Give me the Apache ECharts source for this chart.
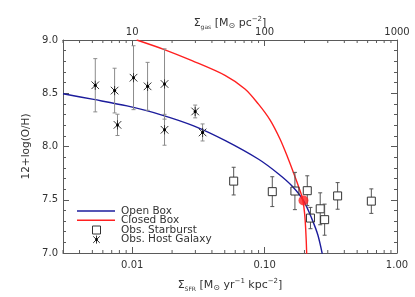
<!DOCTYPE html>
<html><head><meta charset="utf-8">
<script src="https://cdn.jsdelivr.net/npm/echarts@6/dist/echarts.min.js"></script>
<style>html,body{margin:0;padding:0;background:#fff}#c{width:415px;height:297px}</style>
</head><body><div id="c"></div>
<script>
// ---- data ----
const hostSFR = [0.00526, 0.00736, 0.00774, 0.01023, 0.01306, 0.01754, 0.01754, 0.0299, 0.0340];
const hostOH  = [8.575, 8.525, 8.203, 8.646, 8.565, 8.587, 8.157, 8.329, 8.132];
const hostErr = [0.25, 0.21, 0.10, 0.30, 0.225, 0.33, 0.145, 0.06, 0.08];

const sbSFR = [0.0584, 0.1143, 0.1694, 0.210, 0.222, 0.263, 0.284, 0.356, 0.640];
const sbOH  = [7.675, 7.576, 7.582, 7.585, 7.328, 7.415, 7.313, 7.536, 7.487];
const sbErr = [0.13, 0.14, 0.175, 0.14, 0.10, 0.15, 0.146, 0.125, 0.115];

const openSFR = [0.003, 0.00511, 0.00913, 0.0163, 0.0291, 0.0505, 0.0901, 0.1275, 0.1618, 0.1977, 0.2279, 0.2522, 0.2727];
const openOH  = [8.495, 8.442, 8.381, 8.300, 8.194, 8.055, 7.880, 7.742, 7.627, 7.488, 7.318, 7.171, 6.991];

const closedSFR = [0.01081, 0.01768, 0.02828, 0.05022, 0.07108, 0.08959, 0.1098, 0.1307, 0.1502, 0.1667, 0.1818, 0.1932, 0.2001, 0.2043, 0.2079];
const closedOH  = [9.000, 8.908, 8.806, 8.668, 8.540, 8.400, 8.250, 8.070, 7.890, 7.742, 7.613, 7.512, 7.382, 7.226, 6.991];

const dotSFR = [0.1966];
const dotOH  = [7.493];

const xTickVals = [0.01, 0.1, 1];
const xTickLabels = ['0.01', '0.10', '1.00'];
const gasTickVals = [10, 100, 1000];
const gasTickLabels = ['10', '100', '1000'];
const xMinorTicks = [0.003,0.004,0.005,0.006,0.007,0.008,0.009,0.02,0.03,0.04,0.05,0.06,0.07,0.08,0.09,0.2,0.3,0.4,0.5,0.6,0.7,0.8,0.9];
const gasMinorTicks = [3,4,5,6,7,8,9,20,30,40,50,60,70,80,90,200,300,400,500,600,700,800,900];

const legendNames = ['Open Box', 'Closed Box', 'Obs. Starburst', 'Obs. Host Galaxy'];

// ---- styles ----
const FONT = 'DejaVu Sans';
const AX = '#5a5a5a';
const TXT = '#333';
const BLUE = '#1c1c9c';
const RED = '#ff2020';

function fmtMatch(vals, labels) {
  return function (v) {
    for (let i = 0; i < vals.length; i++) {
      if (Math.abs(Math.log10(v) - Math.log10(vals[i])) < 1e-6) return labels[i];
    }
    return '';
  };
}

const chart = echarts.init(document.getElementById('c'), null, {renderer: 'canvas'});

const tickStyle = {color: AX, width: 1};
const richName = {
  a: {fontFamily: FONT, fontSize: 11, color: TXT, lineHeight: 14, verticalAlign: 'middle'},
  b: {fontFamily: FONT, fontSize: 6, color: TXT, lineHeight: 14, verticalAlign: 'bottom', padding: [6, 0, 0, 0]},
  c: {fontFamily: FONT, fontSize: 8, color: TXT, lineHeight: 14, verticalAlign: 'bottom', padding: [3, 0, 0, 0]},
  d: {fontFamily: FONT, fontSize: 7, color: TXT, lineHeight: 14, verticalAlign: 'top', padding: [0, 0, 6, 0]}
};

function renderMinor(side) {
  return function (params, api) {
    const cs = params.coordSys;
    const p = api.coord([api.value(0), 8]);
    const y0 = side === 'bottom' ? cs.y + cs.height : cs.y;
    const y1 = side === 'bottom' ? y0 - 3 : y0 + 3;
    return {type: 'line', shape: {x1: p[0], y1: y0, x2: p[0], y2: y1}, style: {stroke: AX, lineWidth: 1}};
  };
}

function renderHost(params, api) {
  const x = api.value(0), y = api.value(1), e = api.value(2);
  const p = api.coord([x, y]);
  const t = api.coord([x, y + e]);
  const b = api.coord([x, y - e]);
  const s = 4.6, d = 3.8, c = 2;
  const eb = {stroke: '#8c8c8c', lineWidth: 1};
  const mk = {stroke: '#333', lineWidth: 1};
  return {type: 'group', children: [
    {type: 'line', shape: {x1: p[0], y1: t[1], x2: p[0], y2: b[1]}, style: eb},
    {type: 'line', shape: {x1: p[0] - c, y1: t[1], x2: p[0] + c, y2: t[1]}, style: eb},
    {type: 'line', shape: {x1: p[0] - c, y1: b[1], x2: p[0] + c, y2: b[1]}, style: eb},
    {type: 'line', shape: {x1: p[0], y1: p[1] - s, x2: p[0], y2: p[1] + s}, style: mk},
    {type: 'line', shape: {x1: p[0] - d, y1: p[1] - d, x2: p[0] + d, y2: p[1] + d}, style: mk},
    {type: 'line', shape: {x1: p[0] - d, y1: p[1] + d, x2: p[0] + d, y2: p[1] - d}, style: mk},
    {type: 'circle', shape: {cx: p[0], cy: p[1], r: 1.5}, style: {fill: '#000'}}
  ]};
}

function renderSB(params, api) {
  const x = api.value(0), y = api.value(1), e = api.value(2);
  const p = api.coord([x, y]);
  const t = api.coord([x, y + e]);
  const b = api.coord([x, y - e]);
  const h = 4, c = 2;
  const eb = {stroke: '#555', lineWidth: 1};
  return {type: 'group', children: [
    {type: 'line', shape: {x1: p[0], y1: t[1], x2: p[0], y2: p[1] - h}, style: eb},
    {type: 'line', shape: {x1: p[0], y1: p[1] + h, x2: p[0], y2: b[1]}, style: eb},
    {type: 'line', shape: {x1: p[0] - c, y1: t[1], x2: p[0] + c, y2: t[1]}, style: eb},
    {type: 'line', shape: {x1: p[0] - c, y1: b[1], x2: p[0] + c, y2: b[1]}, style: eb},
    {type: 'rect', shape: {x: p[0] - h, y: p[1] - h, width: 2 * h, height: 2 * h}, style: {stroke: '#333', fill: 'none', lineWidth: 1}}
  ]};
}

// legend graphics
const LX = 77, LX2 = 115, LT = 121, MX = 96.5;
const LY = [211, 220.3, 230, 239.6];
const legendGraphic = [
  {type: 'line', shape: {x1: LX, y1: LY[0], x2: LX2, y2: LY[0]}, style: {stroke: BLUE, lineWidth: 1.4}},
  {type: 'line', shape: {x1: LX, y1: LY[1], x2: LX2, y2: LY[1]}, style: {stroke: RED, lineWidth: 1.4}},
  {type: 'rect', shape: {x: MX - 4, y: LY[2] - 4, width: 8, height: 8}, style: {stroke: '#333', fill: 'none', lineWidth: 1}},
  {type: 'group', x: MX, y: LY[3], children: [
    {type: 'line', shape: {x1: 0, y1: -4, x2: 0, y2: 4}, style: {stroke: '#333', lineWidth: 1}},
    {type: 'line', shape: {x1: -3.3, y1: -3.3, x2: 3.3, y2: 3.3}, style: {stroke: '#333', lineWidth: 1}},
    {type: 'line', shape: {x1: -3.3, y1: 3.3, x2: 3.3, y2: -3.3}, style: {stroke: '#333', lineWidth: 1}},
    {type: 'circle', shape: {cx: 0, cy: 0, r: 1.3}, style: {fill: '#000'}}
  ]}
];
legendNames.forEach(function (n, i) {
  legendGraphic.push({type: 'text', x: LT, y: LY[i], style: {text: n, fontFamily: FONT, fontSize: 10.5, fill: TXT, textVerticalAlign: 'middle'}});
});

const option = {
  animation: false,
  backgroundColor: '#fff',
  grid: {left: 63, right: 18, top: 40, bottom: 40, containLabel: false},
  xAxis: [
    {
      type: 'log', logBase: 10, min: 0.003, max: 1, position: 'bottom',
      axisLine: {show: true, onZero: false, lineStyle: {color: AX, width: 1}},
      axisTick: {show: true, inside: true, length: 6, lineStyle: tickStyle},
      axisLabel: {show: true, margin: 7, fontFamily: FONT, fontSize: 10, color: TXT, formatter: fmtMatch(xTickVals, xTickLabels), showMinLabel: false},
      splitLine: {show: false},
      name: '{a|Σ}{b|SFR}{a| [M}{c|⊙}{a| yr}{d|−1}{a| kpc}{d|−2}{a|]}',
      nameLocation: 'middle', nameGap: 25, nameMoveOverlap: false,
      nameTextStyle: {rich: richName}
    },
    {
      type: 'log', logBase: 10, min: 3, max: 1000, position: 'top',
      axisLine: {show: true, onZero: false, lineStyle: {color: AX, width: 1}},
      axisTick: {show: true, inside: true, length: 6, lineStyle: tickStyle},
      axisLabel: {show: true, margin: 3, fontFamily: FONT, fontSize: 10, color: TXT, formatter: fmtMatch(gasTickVals, gasTickLabels), showMinLabel: false},
      splitLine: {show: false},
      name: '{a|Σ}{b|gas}{a| [M}{c|⊙}{a| pc}{d|−2}{a|]}',
      nameLocation: 'middle', nameGap: 10, nameMoveOverlap: false,
      nameTextStyle: {rich: richName}
    }
  ],
  yAxis: [
    {
      type: 'value', min: 7, max: 9, interval: 0.5, position: 'left',
      axisLine: {show: true, onZero: false, lineStyle: {color: AX, width: 1}},
      axisTick: {show: true, inside: true, length: 6, lineStyle: tickStyle},
      minorTick: {show: true, splitNumber: 5, length: 3, lineStyle: {color: AX, width: 1}},
      axisLabel: {show: true, margin: 5, fontFamily: FONT, fontSize: 10, color: TXT, formatter: function (v) { return v.toFixed(1); }},
      splitLine: {show: false}, minorSplitLine: {show: false},
      name: '12+log(O/H)', nameLocation: 'middle', nameGap: 31, nameRotate: 90, nameMoveOverlap: false,
      nameTextStyle: {fontFamily: FONT, fontSize: 10.5, color: TXT}
    },
    {
      type: 'value', min: 7, max: 9, interval: 0.5, position: 'right',
      axisLine: {show: true, onZero: false, lineStyle: {color: AX, width: 1}},
      axisTick: {show: true, inside: true, length: 6, lineStyle: tickStyle},
      minorTick: {show: true, splitNumber: 5, length: 3, lineStyle: {color: AX, width: 1}},
      axisLabel: {show: false},
      splitLine: {show: false}, minorSplitLine: {show: false}
    }
  ],
  series: [
    {type: 'custom', xAxisIndex: 0, yAxisIndex: 0, renderItem: renderMinor('bottom'),
     data: xMinorTicks.map(function (v) { return [v, 8]; }), silent: true, z: 1},
    {type: 'custom', xAxisIndex: 1, yAxisIndex: 0, renderItem: renderMinor('top'),
     data: gasMinorTicks.map(function (v) { return [v, 8]; }), silent: true, z: 1},
    {type: 'line', name: 'Open Box', xAxisIndex: 0, yAxisIndex: 0, smooth: 0.3, showSymbol: false, symbol: 'none', clip: true,
     data: openSFR.map(function (v, i) { return [v, openOH[i]]; }), lineStyle: {color: BLUE, width: 1.4}, z: 2},
    {type: 'line', name: 'Closed Box', xAxisIndex: 0, yAxisIndex: 0, smooth: 0.3, showSymbol: false, symbol: 'none', clip: true,
     data: closedSFR.map(function (v, i) { return [v, closedOH[i]]; }), lineStyle: {color: RED, width: 1.4}, z: 2},
    {type: 'custom', name: 'Obs. Starburst', xAxisIndex: 0, yAxisIndex: 0, renderItem: renderSB,
     data: sbSFR.map(function (v, i) { return [v, sbOH[i], sbErr[i]]; }), encode: {x: 0, y: 1}, z: 3},
    {type: 'custom', name: 'Obs. Host Galaxy', xAxisIndex: 0, yAxisIndex: 0, renderItem: renderHost,
     data: hostSFR.map(function (v, i) { return [v, hostOH[i], hostErr[i]]; }), encode: {x: 0, y: 1}, z: 3},
    {type: 'scatter', xAxisIndex: 0, yAxisIndex: 0, symbol: 'circle', symbolSize: 10,
     data: dotSFR.map(function (v, i) { return [v, dotOH[i]]; }), itemStyle: {color: RED}, z: 4}
  ],
  graphic: legendGraphic
};
chart.setOption(option);
</script>
</body></html>
